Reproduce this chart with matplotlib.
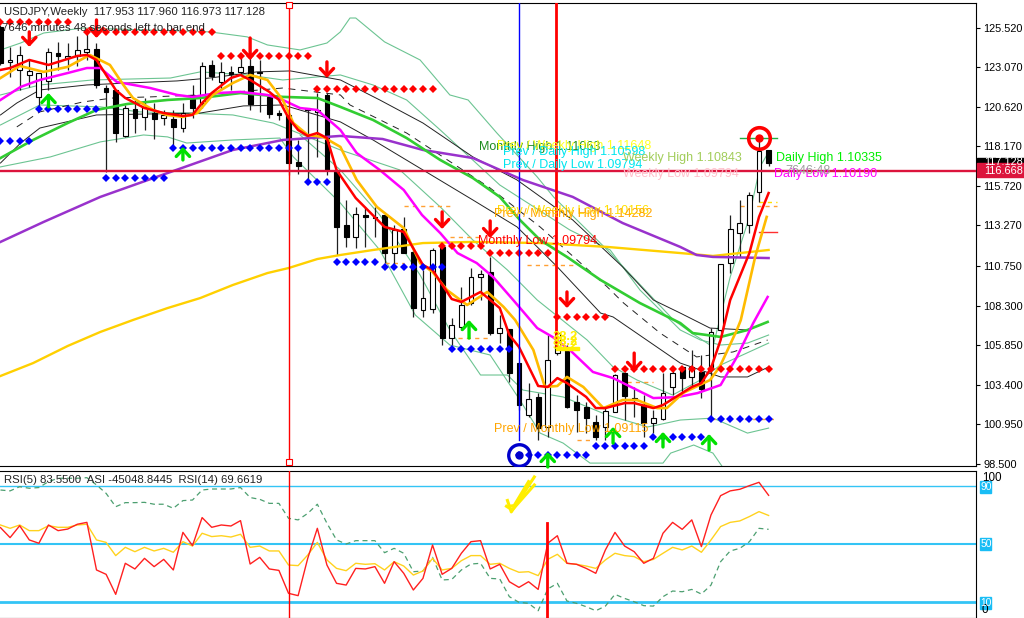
#!/usr/bin/env python3
"""USDJPY weekly terminal screenshot: candles, moving averages, bands, RSI pane."""
import matplotlib

matplotlib.use("Agg")
import matplotlib.pyplot as plt
from matplotlib.patches import Rectangle

plt.rcParams["font.family"] = ["Liberation Sans", "DejaVu Sans"]

W, H = 1024, 618

# candles, one per week, bar 0 is the left edge
opens = [125.58, 123.41, 122.91, 122.60, 121.24, 122.23, 123.96, 123.65, 123.78, 124.03,
         124.21, 121.79, 121.67, 118.82, 120.49, 120.00, 120.24, 119.93, 119.87, 119.31,
         121.36, 120.86, 123.22, 122.17, 122.79, 122.79, 123.16, 122.79, 121.24, 120.24,
         120.12, 117.21, 120.43, 120.31, 121.36, 116.71, 113.30, 112.56, 113.92, 113.80,
         113.92, 111.56, 113.05, 111.63, 108.03, 108.09, 111.94, 106.29, 106.98, 108.46,
         110.08, 110.39, 106.60, 106.85, 104.74, 101.52, 102.64, 100.78, 105.36, 105.55,
         102.33, 102.02, 101.09, 100.78, 101.71, 104.12, 102.45, 102.14, 101.02, 101.27,
         103.26, 104.50, 103.88, 104.19, 104.43, 106.79, 110.94, 112.80, 113.30, 115.35,
         117.95]
highs = [125.70, 124.34, 124.40, 123.53, 122.72, 124.27, 124.65, 124.58, 125.02, 125.27,
         124.58, 121.98, 121.67, 120.74, 121.05, 121.17, 120.86, 120.43, 120.43, 120.86,
         121.98, 123.41, 123.53, 123.41, 123.16, 123.65, 124.15, 123.53, 121.36, 120.43,
         120.12, 118.57, 120.55, 121.48, 121.48, 116.71, 114.85, 114.42, 114.42, 114.42,
         113.92, 113.30, 113.80, 111.75, 110.51, 111.87, 112.06, 107.53, 109.46, 110.63,
         110.51, 111.32, 107.72, 106.85, 104.74, 103.50, 102.88, 106.48, 106.60, 105.86,
         102.76, 102.33, 101.52, 101.95, 104.06, 104.19, 103.26, 102.76, 101.83, 104.12,
         104.50, 104.50, 105.55, 105.24, 106.91, 110.88, 113.92, 114.85, 115.35, 118.69,
         117.96]
lows = [123.22, 122.48, 121.67, 121.86, 120.62, 121.67, 122.91, 122.91, 123.16, 123.53,
        121.79, 116.59, 118.45, 118.76, 119.00, 119.19, 118.63, 119.50, 118.07, 119.07,
        119.93, 120.55, 122.29, 121.67, 121.67, 122.60, 120.43, 120.31, 119.93, 119.81,
        116.40, 116.46, 116.09, 117.52, 116.40, 111.44, 111.94, 111.87, 111.94, 112.56,
        110.94, 110.82, 111.56, 107.60, 107.60, 107.84, 105.86, 105.86, 106.79, 108.34,
        108.65, 106.48, 105.98, 103.57, 101.83, 101.40, 99.97, 100.16, 105.24, 101.95,
        100.47, 100.40, 99.97, 99.97, 101.71, 101.21, 101.40, 100.16, 100.40, 101.21,
        102.76, 102.95, 103.19, 102.57, 101.40, 106.67, 110.32, 111.32, 112.80, 114.73,
        116.97]
closes = [123.34, 123.53, 123.84, 122.85, 122.72, 124.03, 123.78, 123.78, 124.15, 124.21,
          121.98, 121.55, 119.00, 120.55, 119.93, 120.62, 119.87, 120.12, 119.38, 120.24,
          120.55, 123.16, 122.54, 122.79, 122.66, 123.10, 120.80, 122.72, 120.18, 120.12,
          117.14, 116.96, 120.55, 120.43, 116.71, 113.18, 112.56, 113.98, 113.80, 113.73,
          111.56, 112.99, 111.56, 108.15, 108.77, 111.75, 106.29, 107.10, 108.34, 110.08,
          110.26, 106.60, 106.91, 104.12, 102.14, 102.51, 100.71, 104.93, 106.60, 102.02,
          101.83, 101.33, 100.16, 101.77, 104.00, 102.70, 102.57, 101.02, 101.33, 102.88,
          104.12, 103.81, 104.50, 103.13, 106.67, 110.88, 113.05, 113.42, 115.16, 117.89,
          117.128]

# moving averages, read at the bars where they bend
red_x = [0, 1, 3, 5, 8, 9, 10, 11, 12, 13, 15, 17, 19, 20, 21, 22, 24, 25, 26, 28, 29, 30, 31, 32,
         33, 34, 35, 37, 40, 42, 44, 45, 47, 48, 50, 52, 53, 54, 56, 57, 58, 59, 61, 62, 63, 65,
         66, 68, 69, 72, 73, 74, 75, 76, 78, 79, 80]
red_y = [122.91, 123.03, 123.53, 123.22, 123.78, 123.84, 123.53, 122.60, 121.67, 121.17, 120.55,
         120.24, 120.06, 120.12, 120.86, 121.48, 122.41, 122.60, 122.29, 121.55, 121.05, 119.93,
         119.19, 118.82, 119.00, 118.69, 116.71, 114.97, 113.18, 112.87, 110.82, 110.51, 108.71,
         108.53, 109.15, 108.15, 106.48, 105.74, 103.32, 103.26, 103.81, 103.50, 102.64, 101.95,
         101.95, 102.26, 102.26, 101.95, 102.14, 103.26, 103.50, 104.43, 106.17, 108.65, 111.56,
         113.80, 115.28]
orange_x = [0, 2, 4.5, 7, 9.3, 11.4, 12.8, 13.8, 15.9, 17.3, 19, 20.5, 22.1, 24.2, 26, 27.8, 29.4,
            30.5, 32, 33.6, 35.4, 37.1, 39.2, 42, 43.7, 45, 46.5, 48.6, 50.7, 52.4, 53.6, 55.5,
            56.7, 58, 59, 60.7, 62.8, 64.8, 66.3, 68.4, 69.4, 71.1, 73.9, 74.9, 75.3, 76.7, 77.1,
            78.6, 79.8]
orange_y = [122.41, 123.16, 122.79, 123.10, 123.84, 123.22, 121.98, 121.17, 120.43, 120.12, 120.00,
            120.24, 121.36, 122.10, 122.60, 122.29, 121.05, 119.62, 118.88, 118.76, 118.14, 116.09,
            114.42, 113.11, 110.94, 110.39, 109.27, 108.34, 109.15, 108.22, 107.41, 105.55, 103.26,
            103.32, 103.88, 103.26, 101.95, 102.45, 102.45, 101.95, 101.95, 102.89, 103.69, 104.50,
            105.00, 106.80, 107.40, 111.32, 113.80]
magenta_x = [0, 2.1, 4.1, 7, 9, 10.4, 12.1, 15.6, 18.4, 20, 22.6, 25, 27.8, 29.4, 31.2, 33, 35.4,
             37.1, 39.5, 42, 43.9, 45.8, 47.6, 49.6, 51.3, 53.4, 55.9, 57.5, 59.3, 61.7, 63.8, 65.9,
             68, 70.5, 72.6, 75, 76.7, 78.4, 79.9]
magenta_y = [121.05, 121.86, 122.29, 122.72, 123.03, 123.03, 122.17, 121.79, 121.36, 121.24, 121.48,
             121.55, 121.36, 121.05, 120.55, 120.43, 119.19, 117.76, 116.71, 115.47, 113.92, 112.80,
             111.56, 110.94, 110.08, 108.65, 106.91, 106.36, 105.55, 104.19, 103.81, 103.19, 102.57,
             102.63, 102.88, 103.38, 105.12, 107.22, 108.84]
green_x = [0, 3.4, 7, 10, 13.2, 17.4, 20.8, 25, 29.4, 33, 35.4, 38.8, 42.3, 45.8, 49.2, 52, 54.1,
           56.2, 59, 62.5, 66.6, 70.8, 72.1, 75, 77.8, 79.9]
green_y = [117.45, 118.57, 119.62, 120.43, 120.80, 121.05, 121.17, 121.48, 121.24, 121.17, 120.62,
           119.81, 118.69, 117.33, 116.21, 115.04, 113.61, 112.37, 111.32, 109.89, 108.46, 107.22,
           106.60, 106.36, 106.79, 107.29]
purple_x = [0, 4.5, 10.4, 17.4, 24.2, 29.4, 35.4, 39.8, 44, 49.2, 54.4, 59.6, 64.8, 70.8, 72.5, 74.2, 80]
purple_y = [112.25, 113.49, 115.04, 116.52, 117.95, 118.57, 118.82, 118.63, 117.95, 117.45, 116.09,
            115.04, 113.42, 111.94, 111.44, 111.32, 111.25]
gold_x = [0, 3.4, 7, 10.4, 13.8, 17.4, 20.8, 24.2, 27.8, 30, 33, 35.4, 38.8, 44, 49.2, 56.2, 63.2,
          70.8, 74.2, 80]
gold_y = [103.94, 104.74, 105.80, 106.67, 107.41, 108.15, 108.77, 109.58, 110.32, 110.63, 111.19,
          111.44, 111.75, 112.18, 112.25, 112.18, 111.94, 111.56, 111.38, 111.75]

# thin black lines
blk_a_x = [0, 1.7, 4.1, 9, 13.2, 18.4, 21.8, 26.7, 30.2, 35.4, 39.5, 44, 49.2, 53.8, 59.6, 64.8, 68,
           70.8, 73.9, 77.8, 79.9]
blk_a_y = [120.12, 120.86, 121.67, 121.98, 122.10, 122.23, 122.41, 122.79, 122.85, 122.29, 121.05,
           119.62, 117.52, 116.09, 113.61, 110.70, 108.65, 107.84, 106.91, 106.79, 107.29]
blk_b_x = [0, 2.1, 4.1, 10, 20.8, 25.3, 29.4, 35.4, 38.8, 44, 49.2, 53.8, 58, 62.5, 63.8, 70.8, 75,
           77.8, 80]
blk_b_y = [117.14, 118.38, 119.31, 120.12, 120.24, 120.68, 120.74, 119.69, 118.57, 116.71, 114.85,
           113.18, 110.70, 107.84, 107.60, 104.74, 103.88, 103.88, 104.50]
blk_d_x = [1.7, 4.1, 8.6, 11.7, 15.6, 20.8, 29.4, 35.4, 36.4, 42.3, 51, 56.2, 63.2, 64.9, 68.7, 72.5,
           76.3, 79.9]
blk_d_y = [119.38, 120.31, 120.93, 121.17, 121.24, 121.36, 121.79, 121.36, 120.74, 119.00, 115.59,
           113.18, 109.46, 108.46, 106.60, 105.12, 105.43, 106.17]

# thin green bands
band_a_x = [0, 2.1, 4.5, 8.6, 21.8, 25.7, 27.8, 31.2, 34, 35.4, 36.4, 37, 40, 43.7, 46.8, 48.7, 51.7,
            55.9, 57.6, 63.2, 70.1, 72, 74.2, 76, 77.9, 79.1, 80]
band_a_y = [124.15, 124.58, 125.20, 125.51, 125.27, 124.96, 124.46, 124.15, 124.58, 125.27, 126.13,
            126.13, 124.65, 123.53, 121.36, 121.05, 119.00, 116.28, 115.04, 111.75, 107.41, 106.60,
            105.74, 110.08, 113.61, 116.90, 117.83]
band_b_x = [0, 4.1, 9.6, 17.7, 20.8, 25.7, 29.4, 35.4, 38.8, 42.3, 45.8, 52, 59.3, 63.5, 66.6, 70.8,
            72.9, 75, 77.8, 80]
band_b_y = [121.36, 121.98, 122.29, 122.41, 122.79, 122.60, 122.29, 122.60, 121.98, 121.05, 119.19,
            115.78, 112.99, 111.75, 109.27, 106.79, 106.17, 105.86, 105.98, 106.48]
band_c_x = [0, 4.1, 10.4, 14.5, 19.4, 24.2, 28.4, 35.4, 41.6, 45.8, 49.2, 52.8, 55.9, 61.1, 63.8,
            66.3, 70, 72.9, 75, 80]
band_c_y = [119.50, 120.74, 120.62, 120.31, 120.24, 120.12, 119.62, 117.95, 116.71, 114.42, 112.37,
            110.51, 108.65, 106.17, 104.50, 103.69, 102.76, 103.69, 104.62, 105.98]
band_d_x = [0, 5.2, 10.4, 14.9, 17.4, 19.4, 24.2, 29.1, 30.5, 35.4, 39.5, 43.2, 46.8, 51, 54.1, 56.2,
            58.6, 61.4, 65.9, 69, 69.8, 72.2, 74.2, 75.2]
band_d_y = [116.90, 117.52, 118.45, 118.88, 118.76, 118.38, 118.57, 118.69, 117.52, 114.66, 111.75,
            107.72, 105.86, 105.24, 102.45, 100.40, 99.78, 98.54, 98.54, 98.54, 99.16, 99.66, 99.16,
            98.30]
band_e_x = [31.2, 35.4, 39.5, 43.7, 46.8, 50, 52.8, 54.4, 58.6, 63.2, 67.4, 68.4, 70.8, 74.2, 77.8, 80]
band_e_y = [118.88, 116.71, 113.92, 110.20, 106.79, 104.00, 104.00, 103.07, 102.64, 101.52, 100.78,
            100.90, 101.21, 101.33, 100.40, 100.71]

# diamond rows: first bar, last bar, price
red_rows = [(0, 7, 125.89), (9, 22, 125.27), (23, 32, 123.80), (33, 45, 121.73), (46, 50, 111.99),
            (51, 57, 111.56), (58, 63, 107.60), (64, 80, 104.37)]
blue_rows = [(0, 3, 118.51), (4, 10, 120.49), (11, 17, 116.21), (18, 31, 118.07), (32, 34, 115.97),
             (35, 39, 111.01), (40, 46, 110.70), (47, 53, 105.61), (54, 61, 99.04), (62, 67, 99.60),
             (68, 73, 100.16), (74, 80, 101.27)]

# arrows: bar, tail price, head price
down_arrows = [(3, 125.27, 124.34), (10, 126.01, 124.89), (26, 124.89, 123.53), (34, 123.41, 122.41),
               (46, 114.11, 113.05), (51, 113.55, 112.49), (59, 109.15, 108.15), (66, 105.36, 104.19)]
up_arrows = [(5, 120.62, 121.48), (19, 117.33, 118.14), (48.8, 106.29, 107.41), (57, 98.30, 99.23),
             (63.8, 99.78, 100.78), (69, 99.54, 100.47), (73.8, 99.35, 100.34)]

# level dashes: first bar, last bar, price
orange_levels = [(42, 46.8, 114.48), (46.8, 50, 112.56), (40, 42, 110.94), (54.8, 59.6, 110.82),
                 (47.6, 51, 106.29), (65.3, 68, 103.57), (60, 61.7, 99.97), (77, 80.9, 114.48),
                 (74, 80.9, 101.27)]

price_ticks = [125.52, 123.07, 120.62, 118.17, 115.72, 113.27, 110.75, 108.30, 105.85, 103.40,
               100.95, 98.50]

# oscillator pane, one value per bar
rsi5 = [61.3, 54.4, 62.6, 52.8, 50.5, 63.1, 59.2, 60.3, 63.6, 64.9, 32.1, 29.1, 15.3, 36.7, 32.8, 40.1,
        34.4, 39.4, 32.1, 58.0, 48.9, 68.2, 61.5, 63.1, 62.4, 66.1, 36.2, 40.8, 32.8, 31.8, 16.0, 14.4,
        40.1, 60.8, 35.5, 22.9, 21.7, 33.2, 32.8, 34.4, 22.9, 37.8, 29.8, 18.3, 26.3, 49.3, 29.1, 33.2,
        43.6, 51.6, 52.3, 32.8, 36.0, 24.0, 20.1, 24.0, 18.7, 50.5, 55.7, 36.7, 36.0, 33.2, 29.8, 45.9,
        58.0, 48.6, 44.7, 36.7, 40.1, 57.4, 64.9, 60.1, 66.6, 48.2, 70.0, 83.3, 86.6, 87.7, 90.2, 92.5,
        83.55]
rsi14 = [63.1, 60.8, 63.1, 59.2, 59.2, 62.6, 61.5, 61.5, 63.1, 63.6, 52.8, 51.1, 42.0, 47.7, 44.7, 47.7,
         45.2, 47.0, 44.3, 51.6, 48.6, 57.4, 55.1, 55.7, 54.8, 56.7, 47.7, 48.6, 45.2, 45.2, 35.5, 35.1,
         42.4, 51.1, 39.0, 33.2, 31.6, 36.7, 36.0, 36.4, 32.1, 37.8, 34.8, 28.6, 31.4, 40.1, 32.1, 33.2,
         38.5, 42.0, 42.0, 36.0, 36.7, 33.2, 30.5, 30.9, 28.2, 39.4, 42.9, 36.7, 36.0, 34.8, 33.2, 39.0,
         43.6, 42.0, 41.3, 37.8, 39.4, 43.6, 47.7, 45.9, 48.6, 44.3, 52.8, 62.0, 64.9, 65.9, 68.9, 72.3,
         69.66]
asi = [87.2, 86.6, 89.5, 88.4, 88.9, 93.0, 95.3, 95.3, 95.3, 95.7, 90.7, 84.9, 75.7, 78.5, 78.5, 78.7,
       77.4, 77.4, 74.6, 79.9, 80.3, 87.2, 87.9, 87.9, 87.9, 88.9, 82.0, 80.8, 78.0, 78.0, 67.7, 66.6,
       71.1, 77.4, 64.3, 52.8, 50.0, 52.3, 52.3, 52.3, 44.0, 47.0, 43.6, 30.9, 31.4, 40.8, 25.2, 25.6,
       32.1, 36.2, 36.7, 26.3, 25.9, 13.7, 9.8, 9.1, 4.0, 19.0, 22.9, 10.7, 9.1, 6.8, 4.0, 7.2, 15.3,
       12.5, 10.2, 7.5, 7.2, 13.7, 17.6, 17.1, 18.7, 15.5, 21.7, 37.8, 45.2, 47.0, 51.6, 60.8, 60.1]
rsi_levels = [90, 50, 10]


def px_box(left, top, right, bottom):
    return [left / W, 1 - bottom / H, (right - left) / W, (bottom - top) / H]


def fig_text(x, y, s, **kw):
    kw.setdefault("va", "center")
    kw.setdefault("fontsize", 8.2)
    return fig.text(x / W, 1 - y / H, s, **kw)


fig = plt.figure(figsize=(W / 100, H / 100), dpi=100)
ax = fig.add_axes(px_box(0, 3, 976, 466))
low = fig.add_axes(px_box(0, 471, 976, 618))
bar_left, bar_right = -0.05, 101.6
ax.set_xlim(bar_left, bar_right)
ax.set_ylim(98.36, 127.06)
low.set_xlim(bar_left, bar_right)
low.set_ylim(-1.0, 100.3)

for a in (ax, low):
    a.spines["left"].set_visible(False)
    a.set_xticks([])
    a.yaxis.tick_right()
ax.set_yticks(price_ticks, [f"{v:.3f}" for v in price_ticks])
ax.tick_params(axis="y", length=3, pad=2.5, labelsize=7.9)
low.set_yticks([])

# thin lines first, candles over them, thick averages over the candles
bands = [(band_a_x, band_a_y), (band_b_x, band_b_y), (band_c_x, band_c_y), (band_d_x, band_d_y),
         (band_e_x, band_e_y)]
for xs, ys in bands:
    ax.plot(xs, ys, color="#6cc492", lw=0.8, zorder=2)
for xs, ys in [(blk_a_x, blk_a_y), (blk_b_x, blk_b_y)]:
    ax.plot(xs, ys, color="#222222", lw=0.7, zorder=2)
ax.plot(blk_d_x, blk_d_y, color="#222222", lw=0.7, ls=(0, (7, 6)), zorder=2)

bars = range(len(opens))
ax.vlines(bars, lows, highs, color="#202020", lw=0.9, zorder=3)
for i in bars:
    up = closes[i] >= opens[i]
    ax.bar(i, abs(closes[i] - opens[i]), bottom=min(opens[i], closes[i]), width=0.5,
           color="white" if up else "black", edgecolor="black", lw=0.8, zorder=3)

ax.plot(gold_x, gold_y, color="#ffd000", lw=1.7, zorder=4)
ax.plot(purple_x, purple_y, color="#9932cc", lw=1.8, zorder=4)
ax.plot(green_x, green_y, color="#32cd32", lw=1.9, zorder=4)
ax.plot(magenta_x, magenta_y, color="#ff00ff", lw=1.8, zorder=4)
ax.plot(orange_x, orange_y, color="#ffbb00", lw=1.9, zorder=4)
ax.plot(red_x, red_y, color="#ff0000", lw=1.8, zorder=4)

for rows, color in [(red_rows, "#ff0000"), (blue_rows, "#0000ff")]:
    for first, last, price in rows:
        xs = list(range(first, last + 1))
        ax.plot(xs, [price] * len(xs), ls="none", marker="D", ms=4.1, color=color, mew=0, zorder=5)

for first, last, price in orange_levels:
    ax.plot([first, last], [price, price], color="#ffa033", lw=1.0, ls=(0, (3, 3)), zorder=2)
ax.plot([79, 80.9], [114.73, 114.73], color="#ffe000", lw=1.0, ls=(0, (3, 3)), zorder=2)
ax.plot([79, 80.9], [112.87, 112.87], color="#ff3030", lw=1.0, zorder=2)
ax.plot([77, 80.9], [118.69, 118.69], color="#20b040", lw=1.0, zorder=2)

arrow_style = "->,head_length=0.32,head_width=0.3"
for rows, color in [(down_arrows, "#ff0000"), (up_arrows, "#00e000")]:
    for bar, tail, head in rows:
        ax.annotate("", xy=(bar, head), xytext=(bar, tail), zorder=6, annotation_clip=False,
                    arrowprops=dict(arrowstyle=arrow_style, color=color, lw=2.4, mutation_scale=16,
                                    shrinkA=0, shrinkB=0))

# vertical and horizontal markers
ax.axvline(30, color="#ff0000", lw=1.0, zorder=6)
low.axvline(30, color="#ff0000", lw=1.0, zorder=6)
ax.plot([30, 30], [126.95, 98.6], ls="none", marker="s", ms=4, mfc="white", mec="#ff0000", mew=0.8,
        zorder=7, clip_on=False)
ax.plot([54, 54], [127.06, 100.0], color="#0000ff", lw=1.0, zorder=6)
ax.plot([57.9, 57.9], [127.06, 105.86], color="#ff0000", lw=2.0, zorder=6)
ax.axhline(116.668, color="#dc143c", lw=1.7, zorder=6)

ax.plot([79], [118.72], ls="none", marker="o", ms=15.5, mfc="none", mec="#ff0000", mew=2.6, zorder=7)
ax.plot([79], [118.72], ls="none", marker="o", ms=5, color="#ff0000", zorder=7)
ax.plot([54], [99.04], ls="none", marker="o", ms=15.5, mfc="none", mec="#0000cc", mew=2.4, zorder=7)
ax.plot([54], [99.04], ls="none", marker="o", ms=5, color="#0000cc", zorder=7)

# oscillator pane
for level, width in zip(rsi_levels, [1.0, 1.5, 2.0]):
    low.axhline(level, color="#33c4f5", lw=width, zorder=1)
low.plot(bars, asi, color="#4c9f70", lw=0.9, ls=(0, (4, 3)), zorder=2)
low.plot(bars, rsi14, color="#ffd21e", lw=1.0, zorder=3)
low.plot(bars, rsi5, color="#ff2020", lw=1.0, zorder=4)
low.plot([56.9, 56.9], [64.5, -1.0], color="#ff0000", lw=2.0, zorder=5)
for xs, ys in [([52.8, 53.2, 55.6], [80.0, 72.1, 96.2]), ([52.7, 53.3, 55.6], [76.0, 73.5, 90.7]),
               ([53.0, 53.5, 55.0], [76.0, 76.5, 93.0])]:
    low.plot(xs, ys, color="#ffee00", lw=2.2, zorder=6)

# chart comments
fig_text(4, 12, "USDJPY,Weekly  117.953 117.960 116.973 117.128", color="#222222", zorder=10)
fig_text(2, 28, "7646 minutes 48 seconds left to bar end", color="#222222", zorder=10)
labels = [
    (479, 147, "Monthly High 1.11063", "#1e8c1e"),
    (497, 146, "Prev / Weekly High 1.11648", "#ffff20"),
    (503, 152, "Prev / Daily High 1.10598", "#00e5ee"),
    (503, 165, "Prev / Daily Low 1.09794", "#00e5ee"),
    (623, 158, "Weekly High 1.10843", "#a2cd5a"),
    (623, 174, "Weekly Low 1.09794", "#ffc0cb"),
    (776, 158, "Daily High 1.10335", "#00ee00"),
    (774, 174, "Daily Low 1.10190", "#ff00ff"),
    (785, 171, "7646:48", "#a0a0a0"),
    (497, 211, "Prev / Weekly Low 1.10156", "#ffe000"),
    (494, 214, "Prev / Monthly High 1.14282", "#ffa500"),
    (478, 241, "Monthly Low 1.09794", "#ff0000"),
    (494, 429, "Prev / Monthly Low 1.09115", "#ffa500"),
]
for x, y, s, color in labels:
    fig_text(x, y, s, color=color, fontsize=9.0, zorder=10)
for dy in (-5, 0, 4):
    fig_text(553, 342 + dy, "38.2", color="#ffee00", fontsize=9.4, fontweight="bold", zorder=10)
fig.add_artist(Rectangle((556 / W, 1 - 350 / H), 23 / W, 3 / H, color="#ffee00", transform=fig.transFigure))

fig_text(4, 480, "RSI(5) 83.5500  ASI -45048.8445  RSI(14) 69.6619", color="#222222", zorder=10)

# right hand scale boxes
fig.add_artist(Rectangle((977 / W, 1 - 166 / H), 47 / W, 8 / H, color="black", transform=fig.transFigure))
fig_text(984, 162, "117.128", color="white", fontsize=7.9)
fig.add_artist(Rectangle((977 / W, 1 - 177 / H), 47 / W, 14 / H, color="#dc143c", transform=fig.transFigure))
fig_text(984, 171, "116.668", color="white", fontsize=7.9)
fig_text(982, 478, "100", color="black", fontsize=8.4)
fig_text(982, 610, "0", color="black", fontsize=8.4)
for level, y in zip(rsi_levels, [487, 544, 603]):
    fig.add_artist(Rectangle((980 / W, 1 - (y + 6) / H), 11 / W, 12 / H, color="#19bdf5",
                             transform=fig.transFigure))
    fig_text(980.5, y, str(level), color="white", fontsize=7.4)

fig.savefig("out.png", dpi=100)
